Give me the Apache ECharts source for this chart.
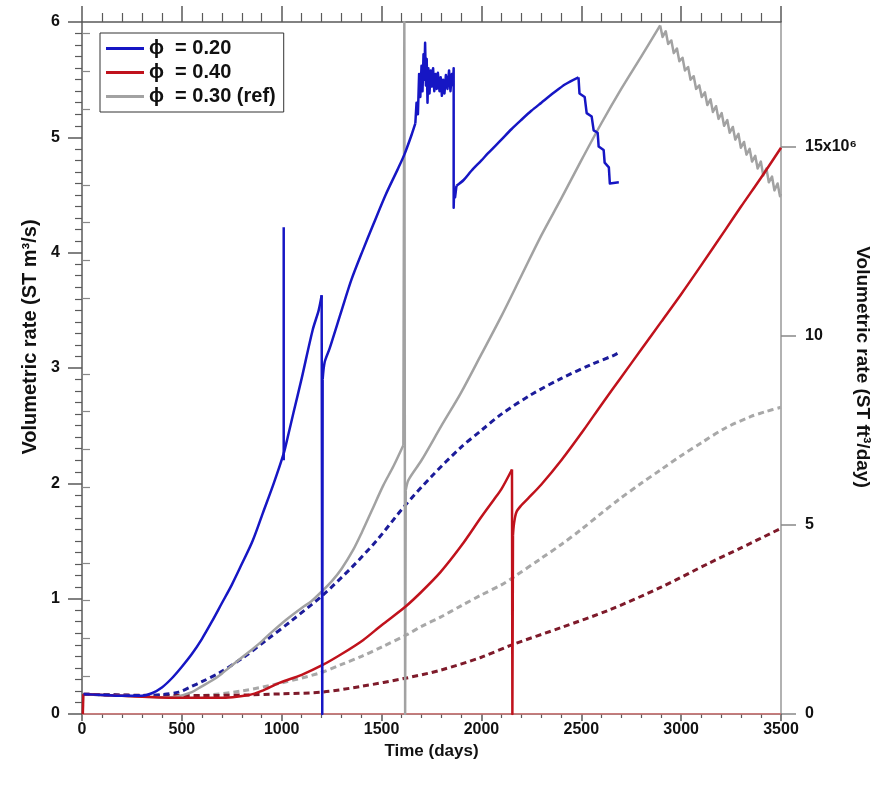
<!DOCTYPE html>
<html><head><meta charset="utf-8">
<script src="https://cdn.jsdelivr.net/npm/echarts@6/dist/echarts.min.js"></script>
<style>html,body{margin:0;padding:0;background:#fff}#c{width:879px;height:795px}</style>
</head><body><div id="c"></div>
<script>
// ---------- data (time in days, rate in ST m3/s) ----------
const legendLabels = ['ϕ  = 0.20', 'ϕ  = 0.40', 'ϕ  = 0.30 (ref)'];
const xTickValues = [0, 500, 1000, 1500, 2000, 2500, 3000, 3500];
const leftTickValues = [0, 1, 2, 3, 4, 5, 6];
const rightTickValues = [0, 5, 10, 15];            // million ST ft3/day
const rightMinorValues = [1,2,3,4,6,7,8,9,11,12,13,14,16,17,18];
const m3sToMft3day = 3.0512;                        // 1 m3/s = 3.0512e6 ft3/day

// phi = 0.20, solid curve, in pieces (smooth parts and sharp parts)
const phi020RiseA = [[8,0.172],[100,0.165],[200,0.158],[300,0.158],[350,0.18],[400,0.23],[450,0.31],[500,0.41],[550,0.52],[600,0.65],[650,0.8],[700,0.96],[750,1.12],[800,1.3],[854,1.5],[905,1.74],[960,2.0],[1010,2.26],[1030,2.4],[1060,2.62],[1100,2.91],[1155,3.33],[1185,3.5],[1200,3.63]];
const phi020Spike = [[1010,2.2],[1010,4.22]];
const phi020DropA = [[1200,3.63],[1203,0],[1205,2.9]];
const phi020RiseB = [[1205,2.9],[1215,3.05],[1240,3.17],[1300,3.5],[1350,3.77],[1406,4.02],[1460,4.25],[1520,4.5],[1580,4.72],[1614,4.85],[1650,5.02],[1669,5.12]];
const phi020Noise = [[1669,5.12],[1675,5.3],[1682,5.2],[1688,5.55],[1694,5.35],[1700,5.62],[1705,5.4],[1710,5.72],[1714,5.5],[1718,5.82],[1722,5.45],[1726,5.68],[1730,5.3],[1734,5.6],[1740,5.38],[1746,5.58],[1752,5.44],[1758,5.6],[1764,5.4],[1770,5.55],[1776,5.42],[1782,5.56],[1790,5.4],[1796,5.52],[1802,5.36],[1808,5.5],[1815,5.38],[1822,5.54],[1830,5.42],[1838,5.58],[1845,5.4],[1852,5.55],[1858,5.45],[1861,5.6],[1861,4.39],[1863,4.52],[1868,4.48],[1875,4.58]];
const phi020RiseC = [[1875,4.58],[1911,4.63],[1950,4.71],[2000,4.8],[2032,4.86],[2100,4.98],[2150,5.07],[2199,5.15],[2250,5.23],[2300,5.3],[2365,5.39],[2420,5.46],[2486,5.52]];
const phi020Steps = [[2486,5.52],[2491,5.38],[2517,5.35],[2527,5.21],[2552,5.18],[2562,5.06],[2582,5.04],[2587,4.92],[2612,4.89],[2617,4.78],[2638,4.74],[2643,4.6],[2688,4.61]];
const phi020Dashed = [[8,0.172],[150,0.165],[300,0.16],[400,0.168],[484,0.19],[550,0.24],[600,0.28],[686,0.355],[800,0.48],[923,0.64],[1050,0.81],[1205,1.03],[1350,1.27],[1478,1.51],[1609,1.79],[1750,2.06],[1896,2.31],[2000,2.46],[2100,2.6],[2250,2.77],[2400,2.91],[2550,3.03],[2663,3.11],[2685,3.13]];

// phi = 0.40
const phi040Start = [[4,0],[7,0.172]];
const phi040RiseA = [[7,0.172],[100,0.165],[300,0.15],[500,0.14],[686,0.14],[837,0.165],[900,0.2],[988,0.27],[1100,0.34],[1205,0.425],[1300,0.52],[1407,0.64],[1500,0.77],[1619,0.93],[1700,1.06],[1795,1.23],[1900,1.46],[2000,1.71],[2063,1.86],[2100,1.95],[2153,2.12]];
const phi040Drop = [[2153,2.12],[2155,0],[2158,1.55]];
const phi040RiseB = [[2158,1.55],[2163,1.65],[2175,1.75],[2200,1.81],[2234,1.87],[2300,1.99],[2400,2.2],[2511,2.46],[2600,2.68],[2700,2.92],[2800,3.16],[2900,3.4],[3000,3.64],[3100,3.89],[3222,4.2],[3300,4.4],[3400,4.65],[3500,4.91]];
const phi040Dashed = [[8,0.172],[200,0.165],[400,0.16],[600,0.16],[822,0.165],[1000,0.175],[1205,0.19],[1400,0.24],[1619,0.31],[1795,0.38],[1997,0.49],[2153,0.6],[2400,0.75],[2637,0.9],[2900,1.1],[3142,1.31],[3300,1.44],[3500,1.61]];

// phi = 0.30 (ref)
const phi030RiseA = [[8,0.172],[100,0.165],[200,0.158],[300,0.15],[400,0.145],[469,0.15],[550,0.19],[600,0.24],[651,0.29],[700,0.35],[750,0.42],[800,0.49],[852,0.56],[900,0.63],[950,0.71],[1024,0.82],[1100,0.92],[1150,0.98],[1205,1.07],[1250,1.15],[1300,1.26],[1357,1.42],[1400,1.57],[1450,1.76],[1508,1.98],[1560,2.15],[1609,2.33]];
const phi030Drop = [[1609,2.33],[1614,6.0],[1618,0],[1621,1.94]];
const phi030RiseB = [[1621,1.94],[1635,2.03],[1700,2.2],[1800,2.5],[1896,2.78],[2000,3.12],[2100,3.45],[2200,3.8],[2300,4.15],[2400,4.47],[2500,4.8],[2600,5.12],[2700,5.42],[2800,5.7],[2895,5.97]];
const phi030Saw = [[2895,5.97],[2907,5.87],[2923,5.92],[2935,5.81],[2951,5.84],[2963,5.73],[2979,5.77],[2991,5.66],[3007,5.69],[3019,5.58],[3035,5.61],[3047,5.5],[3063,5.53],[3075,5.42],[3091,5.45],[3103,5.35],[3119,5.39],[3131,5.28],[3147,5.33],[3159,5.22],[3175,5.27],[3187,5.16],[3203,5.21],[3215,5.1],[3231,5.15],[3243,5.04],[3259,5.09],[3271,4.98],[3287,5.03],[3299,4.91],[3315,4.96],[3327,4.85],[3343,4.9],[3355,4.79],[3371,4.84],[3383,4.73],[3399,4.79],[3411,4.67],[3427,4.73],[3439,4.61],[3455,4.66],[3467,4.54],[3483,4.6],[3495,4.49],[3500,4.51]];
const phi030Dashed = [[8,0.172],[200,0.16],[400,0.15],[600,0.16],[800,0.2],[1000,0.27],[1190,0.355],[1300,0.43],[1400,0.5],[1500,0.58],[1629,0.69],[1700,0.76],[1795,0.84],[1900,0.94],[1997,1.03],[2100,1.12],[2164,1.19],[2300,1.35],[2400,1.47],[2500,1.6],[2600,1.74],[2688,1.86],[2800,2.0],[2900,2.12],[3000,2.24],[3100,2.35],[3222,2.48],[3350,2.58],[3420,2.62],[3500,2.66]];
const zeroLine = [[0,0],[3500,0]];

// ---------- styling ----------
const BLUE = '#1616c4', BLUE_D = '#1c1c9a';
const RED = '#c0121c', RED_D = '#7e1a2a';
const GRAY = '#a2a2a2', GRAY_D = '#a8a8a8';
const AX = '#5a5a5a';
const SANS = "'Liberation Sans', Arial, Helvetica, sans-serif";
const NARROW = "'Liberation Sans Narrow', 'Arial Narrow', 'Liberation Sans', sans-serif";

function lineSeries(name, data, color, width, dashed, z, smooth) {
  return {
    name, type: 'line', data, xAxisIndex: 0, yAxisIndex: 0,
    symbol: 'none', showSymbol: false, animation: false, z: z,
    smooth: smooth ? 0.3 : false,
    lineStyle: { color, width, type: dashed ? [6, 4] : 'solid', cap: 'butt', join: 'round' },
    itemStyle: { color }
  };
}

const chart = echarts.init(document.getElementById('c'), null, { renderer: 'canvas' });
const tickLbl = { fontFamily: SANS, fontWeight: 'bold', fontSize: 16, color: '#111' };
const plain = v => String(v);

chart.setOption({
  backgroundColor: '#fff',
  animation: false,
  grid: { left: 82, right: 98, top: 22, bottom: 81, containLabel: false },
  legend: {
    data: legendLabels, orient: 'vertical', left: 100, top: 33,
    padding: [5, 8, 5, 6], itemGap: 3, itemWidth: 38, itemHeight: 3, icon: 'rect',
    borderColor: '#333', borderWidth: 1, backgroundColor: '#fff',
    textStyle: { fontFamily: SANS, fontWeight: 'bold', fontSize: 20, color: '#111', lineHeight: 21 }
  },
  xAxis: [
    { type: 'value', position: 'bottom', min: 0, max: 3500, interval: 500,
      axisLine: { show: true, onZero: false, lineStyle: { color: AX, width: 1.5 } },
      axisTick: { show: true, inside: false, length: 7, lineStyle: { color: AX, width: 1.5 } },
      minorTick: { show: true, splitNumber: 5, length: 4, lineStyle: { color: AX, width: 1.2 } },
      splitLine: { show: false }, minorSplitLine: { show: false },
      axisLabel: { ...tickLbl, fontFamily: NARROW, margin: 8, customValues: xTickValues, formatter: plain },
      name: 'Time (days)', nameLocation: 'middle', nameGap: 27,
      nameTextStyle: { fontFamily: NARROW, fontWeight: 'bold', fontSize: 17, color: '#111' } },
    { type: 'value', position: 'top', min: 0, max: 3500, interval: 500,
      axisLine: { show: true, onZero: false, lineStyle: { color: AX, width: 1.5 } },
      axisTick: { show: true, inside: false, length: 16, lineStyle: { color: AX, width: 1.5 } },
      minorTick: { show: true, splitNumber: 5, length: 9, lineStyle: { color: AX, width: 1.2 } },
      splitLine: { show: false }, axisLabel: { show: false } }
  ],
  yAxis: [
    { type: 'value', position: 'left', min: 0, max: 6, interval: 1,
      axisLine: { show: true, onZero: false, lineStyle: { color: AX, width: 1.5 } },
      axisTick: { show: true, inside: false, length: 14, lineStyle: { color: AX, width: 1.5 } },
      minorTick: { show: true, splitNumber: 10, length: 7, lineStyle: { color: AX, width: 1.2 } },
      splitLine: { show: false },
      axisLabel: { ...tickLbl, margin: 22, customValues: leftTickValues, formatter: plain } },
    { type: 'value', position: 'right', min: 0, max: 6 * m3sToMft3day,
      axisLine: { show: true, onZero: false, lineStyle: { color: '#999', width: 1.5 } },
      axisTick: { show: true, inside: false, length: 15, customValues: rightTickValues, lineStyle: { color: '#888', width: 1.5 } },
      splitLine: { show: false },
      axisLabel: { ...tickLbl, margin: 24, customValues: rightTickValues,
        formatter: v => (v === 15 ? '15x10⁶' : String(v)) } },
    { type: 'value', position: 'right', min: 0, max: 6 * m3sToMft3day,
      axisLine: { show: false },
      axisTick: { show: true, inside: false, length: 8, customValues: rightMinorValues, lineStyle: { color: '#888', width: 1.2 } },
      splitLine: { show: false }, axisLabel: { show: false } }
  ],
  graphic: [
    { type: 'text', x: 30, y: 337, rotation: Math.PI / 2,
      style: { text: 'Volumetric rate (ST m³/s)', font: "bold 20px 'Liberation Sans', Arial, sans-serif",
        fill: '#111', textAlign: 'center', textVerticalAlign: 'middle' } },
    { type: 'text', x: 862, y: 367, rotation: -Math.PI / 2,
      style: { text: 'Volumetric rate (ST ft³/day)', font: "bold 19px 'Liberation Sans', Arial, sans-serif",
        fill: '#111', textAlign: 'center', textVerticalAlign: 'middle' } }
  ],
  series: [
    lineSeries('zero', zeroLine, '#e07a7a', 1.5, false, 1, false),
    lineSeries('ϕ = 0.30 dashed', phi030Dashed, GRAY_D, 3, true, 2, true),
    lineSeries('ϕ = 0.40 dashed', phi040Dashed, RED_D, 3, true, 2, true),
    lineSeries('ϕ = 0.20 dashed', phi020Dashed, BLUE_D, 3, true, 2, true),
    lineSeries(legendLabels[2], phi030RiseA, GRAY, 2.5, false, 3, true),
    lineSeries(legendLabels[2], phi030Drop, GRAY, 2.5, false, 3, false),
    lineSeries(legendLabels[2], phi030RiseB, GRAY, 2.5, false, 3, true),
    lineSeries(legendLabels[2], phi030Saw, GRAY, 2.5, false, 3, false),
    lineSeries(legendLabels[1], phi040Start, RED, 2.5, false, 4, false),
    lineSeries(legendLabels[1], phi040RiseA, RED, 2.5, false, 4, true),
    lineSeries(legendLabels[1], phi040Drop, RED, 2.5, false, 4, false),
    lineSeries(legendLabels[1], phi040RiseB, RED, 2.5, false, 4, true),
    lineSeries(legendLabels[0], phi020RiseA, BLUE, 2.5, false, 5, true),
    lineSeries(legendLabels[0], phi020Spike, BLUE, 2.5, false, 5, false),
    lineSeries(legendLabels[0], phi020DropA, BLUE, 2.5, false, 5, false),
    lineSeries(legendLabels[0], phi020RiseB, BLUE, 2.5, false, 5, true),
    lineSeries(legendLabels[0], phi020Noise, BLUE, 2.5, false, 5, false),
    lineSeries(legendLabels[0], phi020RiseC, BLUE, 2.5, false, 5, true),
    lineSeries(legendLabels[0], phi020Steps, BLUE, 2.5, false, 5, false)
  ]
});
</script></body></html>
